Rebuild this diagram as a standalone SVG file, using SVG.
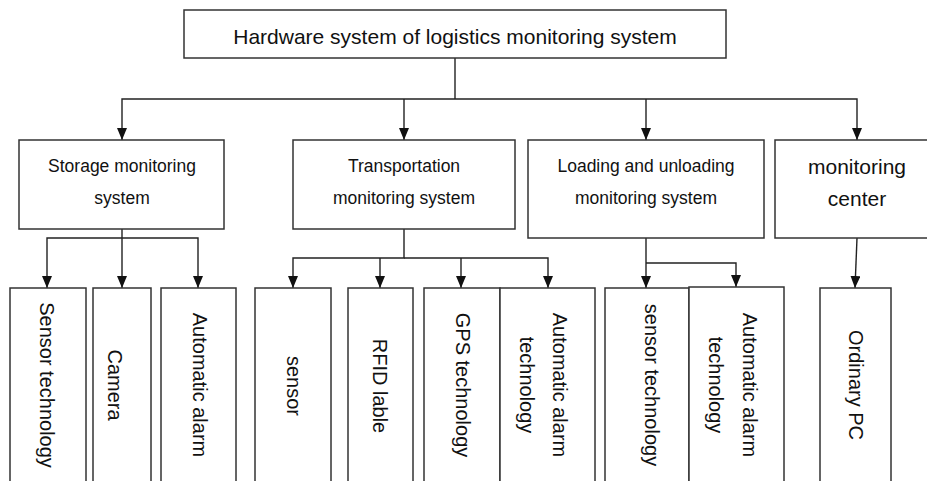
<svg xmlns="http://www.w3.org/2000/svg" width="927" height="481" viewBox="0 0 927 481">
<style>
.box{fill:#fff;stroke:#333;stroke-width:1.5}
.t{font-family:"Liberation Sans",Arial,sans-serif;fill:#111;text-anchor:middle}
.l1{font-size:21px}
.l2{font-size:17.5px}
.l2b{font-size:21px}
.v{font-size:20px}
.c{fill:none;stroke:#222;stroke-width:1.4}
</style>
<defs>
<marker id="ah" viewBox="0 0 12 10" refX="12" refY="5" markerWidth="12" markerHeight="10" markerUnits="userSpaceOnUse" orient="auto">
<path d="M0,0 L12,5 L0,10 z" fill="#111"/>
</marker>
</defs>
<rect width="927" height="481" fill="#fff"/>
<g id="connectors">
<path class="c" d="M455,58 V99"/>
<path class="c" d="M455,99 H122 V140" marker-end="url(#ah)"/>
<path class="c" d="M404,99 V140" marker-end="url(#ah)"/>
<path class="c" d="M455,99 H857 V140" marker-end="url(#ah)"/>
<path class="c" d="M646,99 V140" marker-end="url(#ah)"/>
<path class="c" d="M122,229 V288" marker-end="url(#ah)"/>
<path class="c" d="M122,238 H47 V288" marker-end="url(#ah)"/>
<path class="c" d="M122,238 H198 V288" marker-end="url(#ah)"/>
<path class="c" d="M404,229 V258 H293 V288" marker-end="url(#ah)"/>
<path class="c" d="M404,258 H548 V288" marker-end="url(#ah)"/>
<path class="c" d="M380,258 V288" marker-end="url(#ah)"/>
<path class="c" d="M461,258 V288" marker-end="url(#ah)"/>
<path class="c" d="M646,238 V288" marker-end="url(#ah)"/>
<path class="c" d="M646,263 H736 V287" marker-end="url(#ah)"/>
<path class="c" d="M857,238 L855,288" marker-end="url(#ah)"/>
</g>
<g id="root">
<rect class="box" x="184" y="10" width="542" height="48"/>
<text class="t l1" x="455" y="44">Hardware system of logistics monitoring system</text>
</g>
<g id="storage">
<rect class="box" x="19" y="140" width="205" height="89"/>
<text class="t l2" x="122" y="172">Storage monitoring</text>
<text class="t l2" x="122" y="204">system</text>
</g>
<g id="transport">
<rect class="box" x="293" y="140" width="222" height="89"/>
<text class="t l2" x="404" y="172">Transportation</text>
<text class="t l2" x="404" y="204">monitoring system</text>
</g>
<g id="loading">
<rect class="box" x="528" y="140" width="236" height="98"/>
<text class="t l2" x="646" y="172">Loading and unloading</text>
<text class="t l2" x="646" y="204">monitoring system</text>
</g>
<g id="center">
<rect class="box" x="775" y="140" width="160" height="98"/>
<text class="t l2b" x="857" y="174">monitoring</text>
<text class="t l2b" x="857" y="206">center</text>
</g>
<g id="sensor-tech-1">
<rect class="box" x="10" y="288" width="76" height="200"/>
<text class="t v" transform="translate(40,385) rotate(90)">Sensor technology</text>
</g>
<g id="camera">
<rect class="box" x="93" y="288" width="58" height="200"/>
<text class="t v" transform="translate(108,385) rotate(90)">Camera</text>
</g>
<g id="auto-alarm-1">
<rect class="box" x="161" y="288" width="75" height="200"/>
<text class="t v" transform="translate(193,385) rotate(90)">Automatic alarm</text>
</g>
<g id="sensor">
<rect class="box" x="255" y="288" width="76" height="200"/>
<text class="t v" transform="translate(287,386) rotate(90)">sensor</text>
</g>
<g id="rfid">
<rect class="box" x="348" y="288" width="65" height="200"/>
<text class="t v" transform="translate(373,386) rotate(90)">RFID lable</text>
</g>
<g id="gps">
<rect class="box" x="424" y="288" width="76" height="200"/>
<text class="t v" transform="translate(456,385) rotate(90)">GPS technology</text>
</g>
<g id="auto-alarm-2">
<rect class="box" x="500" y="288" width="95" height="200"/>
<text class="t v" transform="translate(553,385) rotate(90)">Automatic alarm</text>
<text class="t v" transform="translate(520,385) rotate(90)">technology</text>
</g>
<g id="sensor-tech-2">
<rect class="box" x="605" y="288" width="84" height="200"/>
<text class="t v" transform="translate(645,385) rotate(90)">sensor technology</text>
</g>
<g id="auto-alarm-3">
<rect class="box" x="689" y="287" width="95" height="201"/>
<text class="t v" transform="translate(743,385) rotate(90)">Automatic alarm</text>
<text class="t v" transform="translate(709,385) rotate(90)">technology</text>
</g>
<g id="ordinary-pc">
<rect class="box" x="820" y="288" width="71" height="200"/>
<text class="t v" transform="translate(849,385) rotate(90)">Ordinary PC</text>
</g>
</svg>
